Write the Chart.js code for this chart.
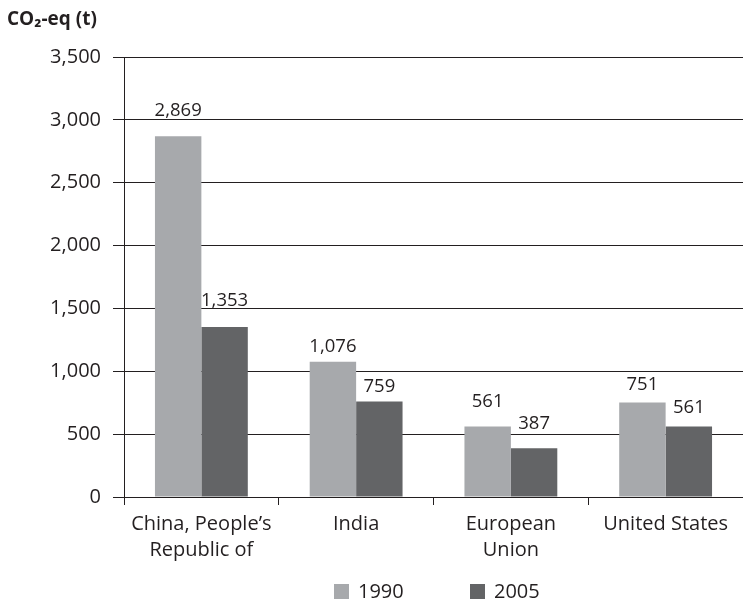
<!DOCTYPE html>
<html>
<head>
<meta charset="utf-8">
<script src="https://cdn.jsdelivr.net/npm/chart.js@4.4.0/dist/chart.umd.min.js"></script>
<style>
  html, body { margin: 0; padding: 0; background: #fff; }
  #wrap { width: 743px; height: 602px; }
</style>
</head>
<body>
<div id="wrap"><canvas id="c" width="743" height="602"></canvas></div>
<script>
// Emissions per region, tonnes CO2-equivalent
const categories = [["China, People\u2019s", "Republic of"], "India", ["European", "Union"], "United States"];
const seriesNames = ["1990", "2005"];
const values1990 = [2869, 1076, 561, 751];
const values2005 = [1353, 759, 387, 561];
const yTickValues = [0, 500, 1000, 1500, 2000, 2500, 3000, 3500];

const FONT = "'Open Sans', 'DejaVu Sans', sans-serif";
const INK = "#231f20";
const LINE = "#231f20";
const COLORS = ["#a7a9ac", "#636466"];

const fmt = v => v.toLocaleString("en-US");

// Numbers printed above each bar; gaps (px between bar top and baseline)
// are set per label so none of them sits on a gridline
const valueLabels = {
  id: "valueLabels",
  afterDatasetsDraw(chart, args, opts) {
    const ctx = chart.ctx;
    ctx.save();
    ctx.font = "18.5px " + FONT;
    ctx.fillStyle = INK;
    ctx.textAlign = "center";
    ctx.textBaseline = "alphabetic";
    chart.data.datasets.forEach((ds, i) => {
      chart.getDatasetMeta(i).data.forEach((bar, j) => {
        const gap = opts.gaps[i][j];
        ctx.fillText(fmt(ds.data[j]), bar.x, bar.y - gap);
      });
    });
    ctx.restore();
  }
};

// Unit caption above the value axis
const unitCaption = {
  id: "unitCaption",
  afterDraw(chart) {
    const ctx = chart.ctx;
    ctx.save();
    ctx.font = "bold 19px " + FONT;
    ctx.fillStyle = INK;
    ctx.textAlign = "left";
    ctx.textBaseline = "alphabetic";
    ctx.fillText("CO\u2082-eq (t)", 7, 25);
    ctx.restore();
  }
};

// Series key below the category labels
const seriesKey = {
  id: "seriesKey",
  afterDraw(chart) {
    const ctx = chart.ctx;
    const starts = [334, 470];
    const top = 584, box = 15;
    ctx.save();
    ctx.font = "20px " + FONT;
    ctx.textAlign = "left";
    ctx.textBaseline = "middle";
    chart.data.datasets.forEach((ds, i) => {
      ctx.fillStyle = ds.backgroundColor;
      ctx.fillRect(starts[i], top, box, box);
      ctx.fillStyle = INK;
      ctx.fillText(ds.label, starts[i] + box + 9, top + box / 2 + 1);
    });
    ctx.restore();
  }
};

new Chart(document.getElementById("c"), {
  type: "bar",
  data: {
    labels: categories,
    datasets: [
      { label: seriesNames[0], data: values1990, backgroundColor: COLORS[0] },
      { label: seriesNames[1], data: values2005, backgroundColor: COLORS[1] }
    ]
  },
  options: {
    responsive: false,
    animation: false,
    devicePixelRatio: 1,
    layout: { padding: { top: 57, left: 0, right: 0, bottom: 0 } },
    datasets: { bar: { categoryPercentage: 0.6, barPercentage: 1.0, borderWidth: 0 } },
    plugins: {
      legend: { display: false },
      tooltip: { enabled: false },
      title: { display: false },
      valueLabels: { gaps: [[20, 10, 19, 13], [21, 10, 19, 13]] }
    },
    scales: {
      x: {
        grid: { drawOnChartArea: false, drawTicks: true, tickLength: 8, offset: true, color: LINE, lineWidth: 1 },
        border: { display: true, color: LINE, width: 1 },
        ticks: { color: INK, font: { family: FONT, size: 20, lineHeight: 1.3 }, padding: 6, maxRotation: 0, autoSkip: false },
        afterFit(scale) { scale.height = 105; }
      },
      y: {
        min: 0,
        max: 3500,
        afterBuildTicks(scale) { scale.ticks = yTickValues.map(v => ({ value: v })); },
        grid: { drawOnChartArea: true, drawTicks: true, tickLength: 11, color: LINE, lineWidth: 1 },
        border: { display: true, color: LINE, width: 1 },
        ticks: { color: INK, font: { family: FONT, size: 20 }, padding: 12, callback: v => fmt(v) },
        afterFit(scale) { scale.width = 124; }
      }
    }
  },
  plugins: [valueLabels, unitCaption, seriesKey]
});
</script>
</body>
</html>
